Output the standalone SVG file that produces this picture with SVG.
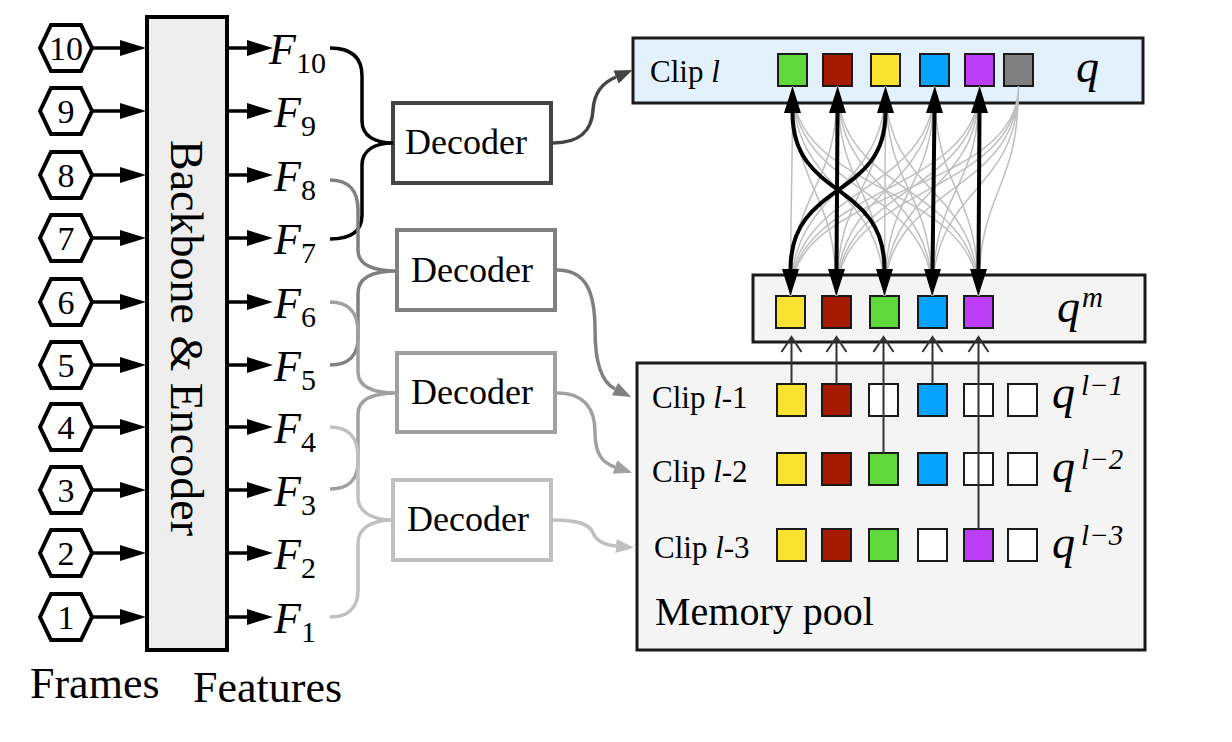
<svg xmlns="http://www.w3.org/2000/svg" width="1232" height="742" viewBox="0 0 1232 742">
<style>
  .hex{fill:#fff;stroke:#000;stroke-width:4;stroke-linejoin:miter}
  .num{font-family:"Liberation Serif",serif;font-size:34px;text-anchor:middle;fill:#000}
  .arr{stroke:#000;stroke-width:3.5;fill:none}
  .F{font-family:"Liberation Serif",serif;font-style:italic;font-size:44px;fill:#000}
  .sub{font-style:normal;font-size:30px}
  .lbl{font-family:"Liberation Serif",serif;font-size:44px;fill:#000}
  .dec{fill:#fff;stroke-width:4}
  .dtxt{font-family:"Liberation Serif",serif;font-size:36px;text-anchor:middle;fill:#000}
  .brace{fill:none;stroke-width:3.5}
  .clip{font-family:"Liberation Serif",serif;font-size:31px;fill:#000}
  .it{font-style:italic}
  .q{font-family:"Liberation Serif",serif;font-style:italic;font-size:46px;fill:#000}
  .sup{font-size:29px}
  .panel{stroke:#1a1a1a;stroke-width:3}
  .sq{stroke:#1a1a1a;stroke-width:2}
  .g{fill:#5fd83a}.r{fill:#a61a00}.y{fill:#fae231}.b{fill:#05a3fc}.p{fill:#bb3df7}.k{fill:#808080}.w{fill:#fff}
  .thin{fill:none;stroke:#bfbfbf;stroke-width:1.5}
  .thick{fill:none;stroke:#000;stroke-width:4;marker-start:url(#ahT);marker-end:url(#ahT)}
  .up{fill:none;stroke:#333;stroke-width:2}
</style>
<defs>
  <marker id="ahB" markerUnits="userSpaceOnUse" markerWidth="26" markerHeight="16" refX="0" refY="8" orient="auto"><path d="M0,0 L26,8 L0,16 z" fill="#000"/></marker>
  <marker id="ahT" markerUnits="userSpaceOnUse" markerWidth="27" markerHeight="17" refX="0" refY="8.5" orient="auto-start-reverse"><path d="M0,0 L27,8.5 L0,17 z" fill="#000"/></marker>
  <marker id="a1" markerUnits="userSpaceOnUse" markerWidth="18" markerHeight="14" refX="0" refY="7" orient="auto"><path d="M0,0 L18,7 L0,14 z" fill="#444"/></marker>
  <marker id="a2" markerUnits="userSpaceOnUse" markerWidth="18" markerHeight="14" refX="0" refY="7" orient="auto"><path d="M0,0 L18,7 L0,14 z" fill="#808080"/></marker>
  <marker id="a3" markerUnits="userSpaceOnUse" markerWidth="18" markerHeight="14" refX="0" refY="7" orient="auto"><path d="M0,0 L18,7 L0,14 z" fill="#a0a0a0"/></marker>
  <marker id="a4" markerUnits="userSpaceOnUse" markerWidth="18" markerHeight="14" refX="0" refY="7" orient="auto"><path d="M0,0 L18,7 L0,14 z" fill="#c0c0c0"/></marker>
</defs>

<g id="frames">
  <polygon class="hex" points="40,48 51,25 81,25 92,48 81,71 51,71"/><text class="num" x="66" y="60">10</text>
  <polygon class="hex" points="40,111 51,88 81,88 92,111 81,134 51,134"/><text class="num" x="66" y="123">9</text>
  <polygon class="hex" points="40,175 51,152 81,152 92,175 81,198 51,198"/><text class="num" x="66" y="187">8</text>
  <polygon class="hex" points="40,238 51,215 81,215 92,238 81,261 51,261"/><text class="num" x="66" y="250">7</text>
  <polygon class="hex" points="40,302 51,279 81,279 92,302 81,325 51,325"/><text class="num" x="66" y="314">6</text>
  <polygon class="hex" points="40,365 51,342 81,342 92,365 81,388 51,388"/><text class="num" x="66" y="377">5</text>
  <polygon class="hex" points="40,427 51,404 81,404 92,427 81,450 51,450"/><text class="num" x="66" y="439">4</text>
  <polygon class="hex" points="40,490 51,467 81,467 92,490 81,513 51,513"/><text class="num" x="66" y="502">3</text>
  <polygon class="hex" points="40,553 51,530 81,530 92,553 81,576 51,576"/><text class="num" x="66" y="565">2</text>
  <polygon class="hex" points="40,617 51,594 81,594 92,617 81,640 51,640"/><text class="num" x="66" y="629">1</text>
  <text class="lbl" x="30" y="698">Frames</text>
</g>

<g id="backbone">
  <rect x="147" y="17" width="80" height="633" fill="#eeeeee" stroke="#000" stroke-width="4"/>
  <text class="lbl" transform="translate(171,338) rotate(90)" text-anchor="middle" style="font-size:46px">Backbone &amp; Encoder</text>
</g>

<g id="features">
  <text class="F" x="269" y="64">F<tspan class="sub" dy="9">10</tspan></text>
  <text class="F" x="274" y="127">F<tspan class="sub" dy="9">9</tspan></text>
  <text class="F" x="274" y="191">F<tspan class="sub" dy="9">8</tspan></text>
  <text class="F" x="274" y="254">F<tspan class="sub" dy="9">7</tspan></text>
  <text class="F" x="274" y="318">F<tspan class="sub" dy="9">6</tspan></text>
  <text class="F" x="274" y="381">F<tspan class="sub" dy="9">5</tspan></text>
  <text class="F" x="274" y="443">F<tspan class="sub" dy="9">4</tspan></text>
  <text class="F" x="274" y="506">F<tspan class="sub" dy="9">3</tspan></text>
  <text class="F" x="274" y="569">F<tspan class="sub" dy="9">2</tspan></text>
  <text class="F" x="274" y="633">F<tspan class="sub" dy="9">1</tspan></text>
  <text class="lbl" x="193" y="702">Features</text>
</g>

<g id="decoder1"><rect class="dec" x="393" y="103" width="158" height="80" stroke="#444"/><text class="dtxt" x="466" y="154">Decoder</text></g>
<g id="decoder2"><rect class="dec" x="397" y="230" width="158" height="80" stroke="#808080"/><text class="dtxt" x="472" y="282">Decoder</text></g>
<g id="decoder3"><rect class="dec" x="397" y="353" width="158" height="79" stroke="#a0a0a0"/><text class="dtxt" x="472" y="404">Decoder</text></g>
<g id="decoder4"><rect class="dec" x="393" y="480" width="158" height="80" stroke="#c0c0c0"/><text class="dtxt" x="468" y="531">Decoder</text></g>

<g id="clip-l">
  <rect class="panel" x="633" y="38" width="510" height="65" fill="#e3f1fc"/>
  <text class="clip" x="650" y="82">Clip <tspan class="it">l</tspan></text>
  <rect class="sq g" x="778" y="54" width="29" height="32"/>
  <rect class="sq r" x="823" y="54" width="29" height="32"/>
  <rect class="sq y" x="871" y="54" width="29" height="32"/>
  <rect class="sq b" x="920" y="54" width="29" height="32"/>
  <rect class="sq p" x="965" y="54" width="29" height="32"/>
  <rect class="sq k" x="1004" y="54" width="29" height="32"/>
  <text class="q" x="1076" y="82">q</text>
</g>

<g id="qm">
  <rect class="panel" x="753" y="275" width="392" height="67" fill="#f4f4f4"/>
  <rect class="sq y" x="776" y="296" width="29" height="32"/>
  <rect class="sq r" x="822" y="296" width="29" height="32"/>
  <rect class="sq g" x="870" y="296" width="29" height="32"/>
  <rect class="sq b" x="918" y="296" width="29" height="32"/>
  <rect class="sq p" x="964" y="296" width="29" height="32"/>
  <text class="q" x="1057" y="322">q<tspan class="sup" dx="2" dy="-15">m</tspan></text>
</g>

<g id="memory-pool">
  <rect class="panel" x="637" y="363" width="508" height="287" fill="#f4f4f4"/>
  <text class="clip" x="652" y="408">Clip <tspan class="it">l</tspan>-1</text>
  <text class="clip" x="652" y="482">Clip <tspan class="it">l</tspan>-2</text>
  <text class="clip" x="654" y="558">Clip <tspan class="it">l</tspan>-3</text>
  <rect class="sq y" x="777" y="384" width="29" height="32"/>
  <rect class="sq r" x="822" y="384" width="29" height="32"/>
  <rect class="sq w" x="869" y="384" width="29" height="32"/>
  <rect class="sq b" x="918" y="384" width="29" height="32"/>
  <rect class="sq w" x="964" y="384" width="29" height="32"/>
  <rect class="sq w" x="1008" y="384" width="29" height="32"/>
  <rect class="sq y" x="777" y="453" width="29" height="32"/>
  <rect class="sq r" x="822" y="453" width="29" height="32"/>
  <rect class="sq g" x="869" y="453" width="29" height="32"/>
  <rect class="sq b" x="918" y="453" width="29" height="32"/>
  <rect class="sq w" x="964" y="453" width="29" height="32"/>
  <rect class="sq w" x="1008" y="453" width="29" height="32"/>
  <rect class="sq y" x="777" y="529" width="29" height="32"/>
  <rect class="sq r" x="822" y="529" width="29" height="32"/>
  <rect class="sq g" x="869" y="529" width="29" height="32"/>
  <rect class="sq w" x="918" y="529" width="29" height="32"/>
  <rect class="sq p" x="964" y="529" width="29" height="32"/>
  <rect class="sq w" x="1008" y="529" width="29" height="32"/>
  <text class="q" x="1052" y="408">q<tspan class="sup" dx="6" dy="-13">l−1</tspan></text>
  <text class="q" x="1052" y="482">q<tspan class="sup" dx="6" dy="-13">l−2</tspan></text>
  <text class="q" x="1052" y="558">q<tspan class="sup" dx="6" dy="-13">l−3</tspan></text>
  <text class="lbl" x="655" y="625" style="font-size:40px">Memory pool</text>
</g>

<g id="connectors">
  <path class="arr" marker-end="url(#ahB)" d="M93,48 H120"/>
  <path class="arr" marker-end="url(#ahB)" d="M93,111 H120"/>
  <path class="arr" marker-end="url(#ahB)" d="M93,175 H120"/>
  <path class="arr" marker-end="url(#ahB)" d="M93,238 H120"/>
  <path class="arr" marker-end="url(#ahB)" d="M93,302 H120"/>
  <path class="arr" marker-end="url(#ahB)" d="M93,365 H120"/>
  <path class="arr" marker-end="url(#ahB)" d="M93,427 H120"/>
  <path class="arr" marker-end="url(#ahB)" d="M93,490 H120"/>
  <path class="arr" marker-end="url(#ahB)" d="M93,553 H120"/>
  <path class="arr" marker-end="url(#ahB)" d="M93,617 H120"/>
  <path class="arr" marker-end="url(#ahB)" d="M229,48 H247"/>
  <path class="arr" marker-end="url(#ahB)" d="M229,111 H247"/>
  <path class="arr" marker-end="url(#ahB)" d="M229,175 H247"/>
  <path class="arr" marker-end="url(#ahB)" d="M229,238 H247"/>
  <path class="arr" marker-end="url(#ahB)" d="M229,302 H247"/>
  <path class="arr" marker-end="url(#ahB)" d="M229,365 H247"/>
  <path class="arr" marker-end="url(#ahB)" d="M229,427 H247"/>
  <path class="arr" marker-end="url(#ahB)" d="M229,490 H247"/>
  <path class="arr" marker-end="url(#ahB)" d="M229,553 H247"/>
  <path class="arr" marker-end="url(#ahB)" d="M229,617 H247"/>
  <path class="brace" stroke="#000" d="M330,48 C350,48 362,56 362,76 L362,121 C362,136 375,143 393,143 C375,143 362,150 362,165 L362,215 C362,232 350,239 330,239"/>
  <path class="brace" stroke="#808080" d="M330,180 C348,180 358,190 358,210 L358,250 C358,265 372,271 397,271 C372,271 358,278 358,293 L358,338 C358,356 348,365 330,365"/>
  <path class="brace" stroke="#a0a0a0" d="M330,302 C348,302 358,312 358,332 L358,372 C358,386 372,393 397,393 C372,393 358,400 358,414 L358,462 C358,480 348,489 330,489"/>
  <path class="brace" stroke="#c0c0c0" d="M330,427 C348,427 358,437 358,457 L358,497 C358,512 372,520 393,520 C372,520 358,528 358,543 L358,590 C358,608 348,617 330,617"/>
  <path fill="none" stroke="#444" stroke-width="3.5" marker-end="url(#a1)" d="M553,143 C580,143 592,130 593,110 C594,92 604,82 616,77"/>
  <path fill="none" stroke="#808080" stroke-width="3.5" marker-end="url(#a2)" d="M557,270 C585,270 595,290 595,330 C595,365 603,383 615,389"/>
  <path fill="none" stroke="#a0a0a0" stroke-width="3.5" marker-end="url(#a3)" d="M557,393 C585,393 595,410 595,432 C595,455 603,463 615,467"/>
  <path fill="none" stroke="#c0c0c0" stroke-width="3.5" marker-end="url(#a4)" d="M553,520 C580,520 590,525 593,533 C597,542 605,545 616,546"/>
  <path class="thin" d="M792.5,86 C792.5,195 790.5,185 790.5,296 M792.5,86 C792.5,195 836.5,185 836.5,296 M792.5,86 C792.5,195 884.5,185 884.5,296 M792.5,86 C792.5,195 932.5,185 932.5,296 M792.5,86 C792.5,195 978.5,185 978.5,296"/>
  <path class="thin" d="M837.5,86 C837.5,195 790.5,185 790.5,296 M837.5,86 C837.5,195 836.5,185 836.5,296 M837.5,86 C837.5,195 884.5,185 884.5,296 M837.5,86 C837.5,195 932.5,185 932.5,296 M837.5,86 C837.5,195 978.5,185 978.5,296"/>
  <path class="thin" d="M885.5,86 C885.5,195 790.5,185 790.5,296 M885.5,86 C885.5,195 836.5,185 836.5,296 M885.5,86 C885.5,195 884.5,185 884.5,296 M885.5,86 C885.5,195 932.5,185 932.5,296 M885.5,86 C885.5,195 978.5,185 978.5,296"/>
  <path class="thin" d="M934.5,86 C934.5,195 790.5,185 790.5,296 M934.5,86 C934.5,195 836.5,185 836.5,296 M934.5,86 C934.5,195 884.5,185 884.5,296 M934.5,86 C934.5,195 932.5,185 932.5,296 M934.5,86 C934.5,195 978.5,185 978.5,296"/>
  <path class="thin" d="M979.5,86 C979.5,195 790.5,185 790.5,296 M979.5,86 C979.5,195 836.5,185 836.5,296 M979.5,86 C979.5,195 884.5,185 884.5,296 M979.5,86 C979.5,195 932.5,185 932.5,296 M979.5,86 C979.5,195 978.5,185 978.5,296"/>
  <path class="thin" d="M1018.5,86 C1018.5,195 790.5,185 790.5,296 M1018.5,86 C1018.5,195 836.5,185 836.5,296 M1018.5,86 C1018.5,195 884.5,185 884.5,296 M1018.5,86 C1018.5,195 932.5,185 932.5,296 M1018.5,86 C1018.5,195 978.5,185 978.5,296"/>
  <path class="thick" d="M792.5,113 C792.5,200 884.5,180 884.5,269"/>
  <path class="thick" d="M885.5,113 C885.5,200 790.5,180 790.5,269"/>
  <path class="thick" d="M837.5,113 L836.5,269"/>
  <path class="thick" d="M934.5,113 L932.5,269"/>
  <path class="thick" d="M979.5,113 L978.5,269"/>
  <path class="up" d="M791.5,384 V338 M781.5,352 L791.5,337 L801.5,352"/>
  <path class="up" d="M836.5,384 V338 M826.5,352 L836.5,337 L846.5,352"/>
  <path class="up" d="M883.5,453 V338 M873.5,352 L883.5,337 L893.5,352"/>
  <path class="up" d="M932.5,384 V338 M922.5,352 L932.5,337 L942.5,352"/>
  <path class="up" d="M978.5,529 V338 M968.5,352 L978.5,337 L988.5,352"/>
</g>
</svg>
